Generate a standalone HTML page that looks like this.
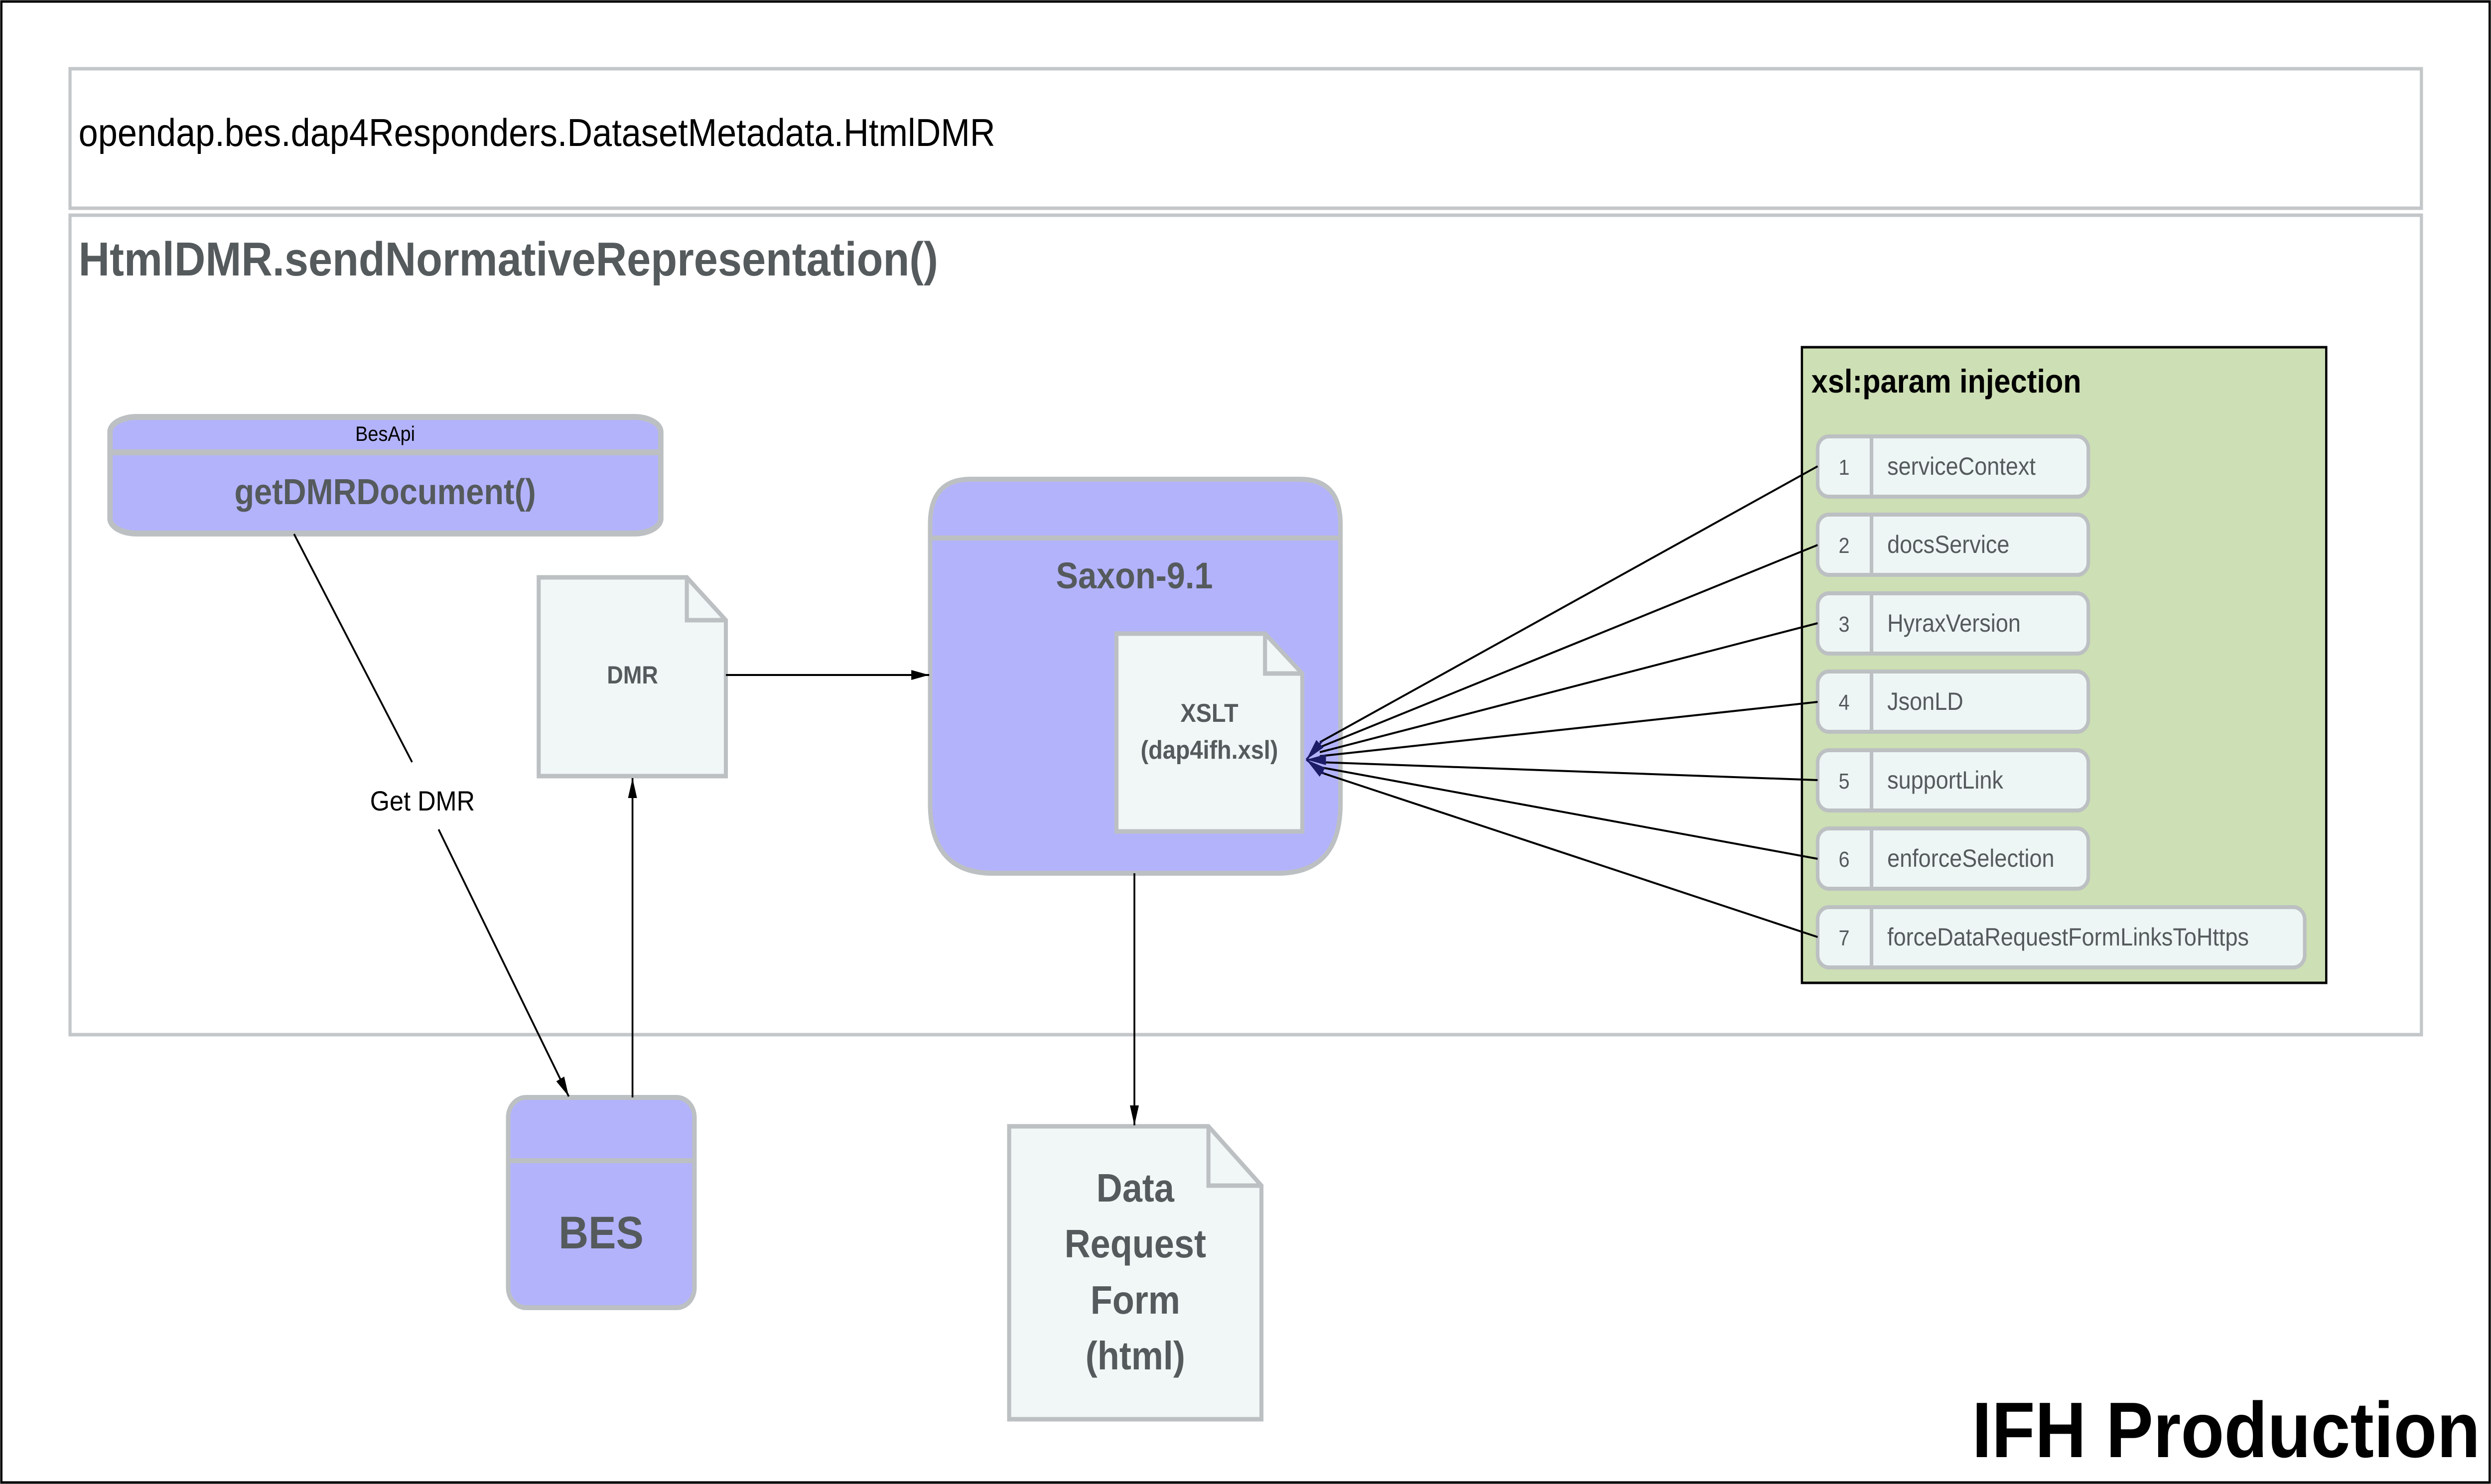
<!DOCTYPE html>
<html><head><meta charset="utf-8"><style>
html,body{margin:0;padding:0;background:#fff;overflow:hidden;width:100%;height:100%;}
svg{display:block;position:absolute;left:0;top:0;width:100vw;height:100vh;}
text{font-family:"Liberation Sans",sans-serif;}
</style></head><body>
<svg viewBox="0 0 5549 2979" preserveAspectRatio="none" xmlns="http://www.w3.org/2000/svg">
<defs>
<marker id="ab" viewBox="0 0 10 10" refX="10" refY="5" markerWidth="40" markerHeight="40" orient="auto" markerUnits="userSpaceOnUse"><path d="M0,2.5 L10,5 L0,7.5 z" fill="#000"/></marker>
<marker id="an" viewBox="0 0 10 10" refX="10" refY="5" markerWidth="44" markerHeight="44" orient="auto" markerUnits="userSpaceOnUse"><path d="M0,2.5 L10,5 L0,7.5 z" fill="#1c1c66"/></marker>
</defs>
<rect x="3" y="3" width="5543" height="2973" fill="#fff" stroke="#000" stroke-width="5"/>
<rect x="156" y="138" width="5238" height="280" fill="#fff" stroke="#c4c7c9" stroke-width="7"/>
<text x="175" y="293" font-size="78" fill="#000">opendap.bes.dap4Responders.DatasetMetadata.HtmlDMR</text>
<rect x="156" y="432" width="5238" height="1645" fill="#fff" stroke="#c4c7c9" stroke-width="7"/>
<text x="175" y="553" font-size="96" font-weight="bold" fill="#555a5c">HtmlDMR.sendNormativeRepresentation()</text>

<rect x="245" y="837" width="1227" height="234" rx="60" ry="30" fill="#b3b3fc" stroke="#bcc0c2" stroke-width="12"/>
<line x1="245" y1="908" x2="1472" y2="908" stroke="#bcc0c2" stroke-width="12"/>
<text x="858" y="885" font-size="42" fill="#000" text-anchor="middle">BesApi</text>
<text x="858" y="1012" font-size="72" font-weight="bold" fill="#555a5c" text-anchor="middle">getDMRDocument()</text>

<path d="M1200,1159 L1530,1159 L1617,1245 L1617,1558 L1200,1558 Z" fill="#f1f6f6" stroke="#bcc0c2" stroke-width="9"/>
<path d="M1530,1159 L1530,1245 L1617,1245" fill="none" stroke="#bcc0c2" stroke-width="9"/>
<text x="1409" y="1372" font-size="50" font-weight="bold" fill="#555a5c" text-anchor="middle">DMR</text>

<path d="M2162,962 L2896,962 Q2986,962 2986,1052 L2986,1613 Q2986,1753 2846,1753 L2212,1753 Q2072,1753 2072,1613 L2072,1052 Q2072,962 2162,962 Z" fill="#b3b3fc" stroke="#bcc0c2" stroke-width="10"/>
<line x1="2072" y1="1080" x2="2986" y2="1080" stroke="#bcc0c2" stroke-width="10"/>
<text x="2527" y="1181" font-size="74" font-weight="bold" fill="#555a5c" text-anchor="middle">Saxon-9.1</text>
<path d="M2487,1272 L2818,1272 L2901,1352 L2901,1669 L2487,1669 Z" fill="#f1f6f6" stroke="#bcc0c2" stroke-width="9"/>
<path d="M2818,1272 L2818,1352 L2901,1352" fill="none" stroke="#bcc0c2" stroke-width="9"/>
<text x="2694" y="1449" font-size="52" font-weight="bold" fill="#555a5c" text-anchor="middle">XSLT</text>
<text x="2694" y="1523" font-size="52" font-weight="bold" fill="#555a5c" text-anchor="middle">(dap4ifh.xsl)</text>

<rect x="1132" y="2203" width="415" height="422" rx="40" ry="40" fill="#b3b3fc" stroke="#bcc0c2" stroke-width="10"/>
<line x1="1132" y1="2330" x2="1547" y2="2330" stroke="#bcc0c2" stroke-width="10"/>
<text x="1339" y="2506" font-size="92" font-weight="bold" fill="#555a5c" text-anchor="middle">BES</text>

<path d="M2248,2261 L2692,2261 L2810,2380 L2810,2849 L2248,2849 Z" fill="#f1f6f6" stroke="#bcc0c2" stroke-width="9"/>
<path d="M2692,2261 L2692,2380 L2810,2380" fill="none" stroke="#bcc0c2" stroke-width="9"/>
<g font-size="80" font-weight="bold" fill="#555a5c" text-anchor="middle">
<text x="2529" y="2412">Data</text>
<text x="2529" y="2524">Request</text>
<text x="2529" y="2637">Form</text>
<text x="2529" y="2749">(html)</text>
</g>

<line x1="655" y1="1072" x2="918" y2="1530" stroke="#000" stroke-width="4"/>
<line x1="977" y1="1665" x2="1267" y2="2201" stroke="#000" stroke-width="4" marker-end="url(#ab)"/>
<text x="941" y="1627" font-size="56" fill="#000" text-anchor="middle">Get DMR</text>
<line x1="1409" y1="2203" x2="1409" y2="1562" stroke="#000" stroke-width="4" marker-end="url(#ab)"/>
<line x1="1617" y1="1355" x2="2070" y2="1355" stroke="#000" stroke-width="4" marker-end="url(#ab)"/>
<line x1="2527" y1="1753" x2="2527" y2="2259" stroke="#000" stroke-width="4" marker-end="url(#ab)"/>

<rect x="4014" y="697" width="1168" height="1276" fill="#cddfb4" stroke="#000" stroke-width="5"/>
<text x="4035" y="788" font-size="66" font-weight="bold" fill="#000">xsl:param injection</text>
<g font-size="50" fill="#555a5c">
<rect x="4049" y="876" width="603" height="121" rx="25" fill="#eef6f5" stroke="#bcc0c2" stroke-width="8"/><line x1="4169" y1="876" x2="4169" y2="997" stroke="#bcc0c2" stroke-width="8"/>
<text x="4108" y="953" text-anchor="middle" font-size="44">1</text><text x="4204" y="953">serviceContext</text>
<rect x="4049" y="1033" width="603" height="121" rx="25" fill="#eef6f5" stroke="#bcc0c2" stroke-width="8"/><line x1="4169" y1="1033" x2="4169" y2="1154" stroke="#bcc0c2" stroke-width="8"/>
<text x="4108" y="1110" text-anchor="middle" font-size="44">2</text><text x="4204" y="1110">docsService</text>
<rect x="4049" y="1191" width="603" height="121" rx="25" fill="#eef6f5" stroke="#bcc0c2" stroke-width="8"/><line x1="4169" y1="1191" x2="4169" y2="1312" stroke="#bcc0c2" stroke-width="8"/>
<text x="4108" y="1268" text-anchor="middle" font-size="44">3</text><text x="4204" y="1268">HyraxVersion</text>
<rect x="4049" y="1348" width="603" height="121" rx="25" fill="#eef6f5" stroke="#bcc0c2" stroke-width="8"/><line x1="4169" y1="1348" x2="4169" y2="1469" stroke="#bcc0c2" stroke-width="8"/>
<text x="4108" y="1425" text-anchor="middle" font-size="44">4</text><text x="4204" y="1425">JsonLD</text>
<rect x="4049" y="1506" width="603" height="121" rx="25" fill="#eef6f5" stroke="#bcc0c2" stroke-width="8"/><line x1="4169" y1="1506" x2="4169" y2="1627" stroke="#bcc0c2" stroke-width="8"/>
<text x="4108" y="1583" text-anchor="middle" font-size="44">5</text><text x="4204" y="1583">supportLink</text>
<rect x="4049" y="1663" width="603" height="121" rx="25" fill="#eef6f5" stroke="#bcc0c2" stroke-width="8"/><line x1="4169" y1="1663" x2="4169" y2="1784" stroke="#bcc0c2" stroke-width="8"/>
<text x="4108" y="1740" text-anchor="middle" font-size="44">6</text><text x="4204" y="1740">enforceSelection</text>
<rect x="4049" y="1821" width="1085" height="121" rx="25" fill="#eef6f5" stroke="#bcc0c2" stroke-width="8"/><line x1="4169" y1="1821" x2="4169" y2="1942" stroke="#bcc0c2" stroke-width="8"/>
<text x="4108" y="1898" text-anchor="middle" font-size="44">7</text><text x="4204" y="1898">forceDataRequestFormLinksToHttps</text>
</g>
<g stroke="#000" stroke-width="4">
<line x1="4049" y1="936" x2="2940" y2="1490"/>
<line x1="4049" y1="1094" x2="2940" y2="1500"/>
<line x1="4049" y1="1251" x2="2940" y2="1510"/>
<line x1="4049" y1="1409" x2="2940" y2="1518"/>
<line x1="4049" y1="1566" x2="2940" y2="1530"/>
<line x1="4049" y1="1724" x2="2940" y2="1540"/>
<line x1="4049" y1="1881" x2="2940" y2="1550"/>
</g>
<g stroke="#1c1c66" stroke-width="4">
<line x1="2945" y1="1488" x2="2910" y2="1525" marker-end="url(#an)"/>
<line x1="2950" y1="1525" x2="2910" y2="1525" marker-end="url(#an)"/>
<line x1="2950" y1="1553" x2="2910" y2="1525" marker-end="url(#an)"/>
</g>

<text x="5525" y="2925" font-size="158" font-weight="bold" fill="#000" text-anchor="end">IFH Production</text>
</svg>
</body></html>
